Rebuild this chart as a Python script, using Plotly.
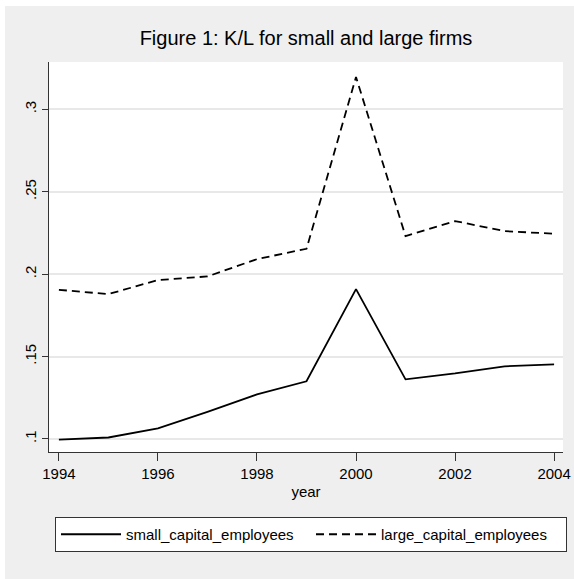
import plotly.graph_objects as go

years = [1994, 1995, 1996, 1997, 1998, 1999, 2000, 2001, 2002, 2003, 2004]
small_capital_employees = [0.0996, 0.1009, 0.1065, 0.1164, 0.1270, 0.1350, 0.1909, 0.1362, 0.1398, 0.1441, 0.1453]
large_capital_employees = [0.1905, 0.1879, 0.1964, 0.1986, 0.2091, 0.2154, 0.3196, 0.2231, 0.2322, 0.2261, 0.2245]
y_tickvals = [0.10, 0.15, 0.20, 0.25, 0.30]
y_ticktext = [".1", ".15", ".2", ".25", ".3"]
x_tickvals = [1994, 1996, 1998, 2000, 2002, 2004]

W, H = 574, 579
L, R, T, B = 49, 11, 62, 127
pw, ph = W - L - R, H - T - B

def px_x(p):
    return (p - L) / pw

def px_y(p):
    return (H - B - p) / ph

FONT = "Liberation Sans, Arial, Helvetica, sans-serif"
AX = "#333333"

fig = go.Figure()
fig.add_trace(go.Scatter(x=years, y=small_capital_employees, mode="lines",
                         name="small_capital_employees",
                         line=dict(color="black", width=1.8)))
fig.add_trace(go.Scatter(x=years, y=large_capital_employees, mode="lines",
                         name="large_capital_employees",
                         line=dict(color="black", width=1.8, dash="8px,5px")))

fig.update_layout(
    width=W, height=H,
    margin=dict(l=L, r=R, t=T, b=B, autoexpand=False),
    paper_bgcolor="#efefef",
    plot_bgcolor="white",
    font=dict(family=FONT, color="black", size=15),
    title=dict(text="Figure 1: K/L for small and large firms",
               x=px_x(306), xref="paper", xanchor="center",
               y=1 - 38 / H, yref="container", yanchor="middle",
               font=dict(size=20, family=FONT, color="black")),
    xaxis=dict(range=[1993.8, 2004.18], tickvals=x_tickvals,
               showgrid=False, zeroline=False, automargin=False,
               showline=True, linecolor=AX, linewidth=1,
               ticks="outside", ticklen=8, tickcolor=AX, tickwidth=1,
               tickfont=dict(size=15),
               title=dict(text="year", font=dict(size=15), standoff=5)),
    yaxis=dict(range=[0.0921, 0.3287], tickvals=y_tickvals, ticktext=y_ticktext,
               tickangle=-90, showgrid=True, gridcolor="#e8e8e8", gridwidth=1.5,
               zeroline=False, showline=True, linecolor=AX, linewidth=1,
               automargin=False,
               ticks="outside", ticklen=6, tickcolor=AX, tickwidth=1,
               tickfont=dict(size=15)),
    showlegend=True,
    legend=dict(orientation="h", x=px_x(55), xanchor="left",
                y=px_y(517), yanchor="top",
                bgcolor="white", bordercolor=AX, borderwidth=1,
                font=dict(size=15), entrywidth=180, entrywidthmode="pixels",
                itemwidth=60),
    shapes=[
        dict(type="rect", xref="paper", yref="paper", layer="above",
             x0=px_x(-2), x1=px_x(5), y0=px_y(-2), y1=px_y(H + 2),
             fillcolor="white", line=dict(width=0)),
        dict(type="rect", xref="paper", yref="paper", layer="above",
             x0=px_x(-2), x1=px_x(W + 2), y0=px_y(6), y1=px_y(-2),
             fillcolor="white", line=dict(width=0)),
    ],
)

fig.write_html("out.html",
               config={"displayModeBar": False},
               post_script="document.body.style.margin='0';document.body.style.overflow='hidden';")
